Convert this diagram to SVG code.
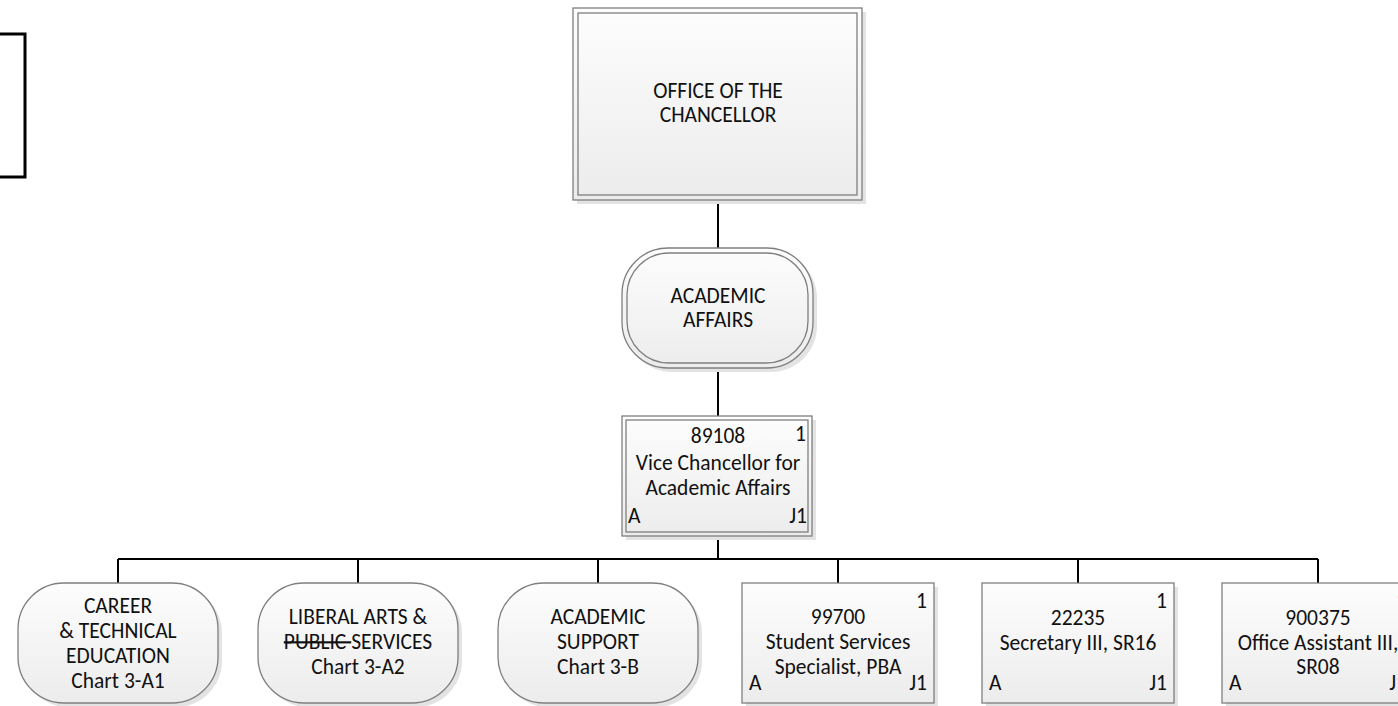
<svg xmlns="http://www.w3.org/2000/svg" width="1398" height="706" viewBox="0 0 1398 706">
<style>
text{font-family:Carlito,Lato,"Liberation Sans",sans-serif;font-size:21.5px;fill:#111}
.c{text-anchor:middle}
.r{text-anchor:end}
.shape{fill:url(#g);stroke:#7f7f7f;stroke-width:1.3}
.inner{fill:none;stroke:#7f7f7f;stroke-width:1.3}
.shadow{fill:#e3e3e3}
.conn{stroke:#000;stroke-width:2;fill:none}
</style>
<defs>
<linearGradient id="g" x1="0" y1="0" x2="0" y2="1">
<stop offset="0" stop-color="#fdfdfd"/>
<stop offset="1" stop-color="#ececec"/>
</linearGradient>
</defs>
<g id="left-box"><rect x="-10" y="34" width="35" height="143" fill="none" stroke="#000" stroke-width="3"/></g>
<g id="connectors">
<path class="conn" d="M718 200V248M718 368V416M718 536V559M118 559H1318M118 559V583M358 559V583M598 559V583M838 559V583M1078 559V583M1318 559V583"/>
</g>
<g id="chancellor">
<rect class="shadow" x="577" y="12" width="289" height="192"/>
<rect class="shape" x="573" y="8" width="289" height="192"/>
<rect class="inner" x="578" y="13" width="279" height="182"/>
<text class="c" x="718" y="98">OFFICE OF THE</text>
<text class="c" x="718" y="122">CHANCELLOR</text>
</g>
<g id="academic-affairs">
<rect class="shadow" x="626" y="252" width="191" height="120" rx="46"/>
<rect class="shape" x="622" y="248" width="191" height="120" rx="46"/>
<rect class="inner" x="627" y="253" width="181" height="110" rx="42"/>
<text class="c" x="718" y="303">ACADEMIC</text>
<text class="c" x="718" y="327">AFFAIRS</text>
</g>
<g id="vice-chancellor">
<rect class="shadow" x="626" y="420" width="190" height="120"/>
<rect class="shape" x="622" y="416" width="190" height="120"/>
<rect class="inner" x="626" y="420" width="182" height="112"/>
<text class="c" x="718" y="443">89108</text>
<text class="r" x="806" y="441">1</text>
<text class="c" x="718" y="470">Vice Chancellor for</text>
<text class="c" x="718" y="495">Academic Affairs</text>
<text x="628" y="523">A</text>
<text class="r" x="807" y="523">J1</text>
</g>
<g id="career">
<rect class="shadow" x="22" y="587" width="200" height="120" rx="46"/>
<rect class="shape" x="18" y="583" width="200" height="120" rx="46"/>
<text class="c" x="118" y="613">CAREER</text>
<text class="c" x="118" y="638">&amp; TECHNICAL</text>
<text class="c" x="118" y="663">EDUCATION</text>
<text class="c" x="118" y="688">Chart 3-A1</text>
</g>
<g id="liberal-arts">
<rect class="shadow" x="262" y="587" width="200" height="120" rx="46"/>
<rect class="shape" x="258" y="583" width="200" height="120" rx="46"/>
<text class="c" x="358" y="624">LIBERAL ARTS &amp;</text>
<text class="c" x="358" y="649"><tspan text-decoration="line-through">PUBLIC </tspan>SERVICES</text>
<text class="c" x="358" y="674">Chart 3-A2</text>
</g>
<g id="academic-support">
<rect class="shadow" x="502" y="587" width="200" height="120" rx="46"/>
<rect class="shape" x="498" y="583" width="200" height="120" rx="46"/>
<text class="c" x="598" y="624">ACADEMIC</text>
<text class="c" x="598" y="649">SUPPORT</text>
<text class="c" x="598" y="674">Chart 3-B</text>
</g>
<g id="student-services">
<rect class="shadow" x="746" y="587" width="192" height="120"/>
<rect class="shape" x="742" y="583" width="192" height="120"/>
<text class="r" x="927" y="608">1</text>
<text class="c" x="838" y="624">99700</text>
<text class="c" x="838" y="649">Student Services</text>
<text class="c" x="838" y="674">Specialist, PBA</text>
<text x="749" y="690">A</text>
<text class="r" x="927" y="690">J1</text>
</g>
<g id="secretary">
<rect class="shadow" x="986" y="587" width="192" height="120"/>
<rect class="shape" x="982" y="583" width="192" height="120"/>
<text class="r" x="1167" y="608">1</text>
<text class="c" x="1078" y="625">22235</text>
<text class="c" x="1078" y="650">Secretary III, SR16</text>
<text x="989" y="690">A</text>
<text class="r" x="1167" y="690">J1</text>
</g>
<g id="office-assistant">
<rect class="shadow" x="1226" y="587" width="192" height="120"/>
<rect class="shape" x="1222" y="583" width="192" height="120"/>
<text class="r" x="1407" y="608">1</text>
<text class="c" x="1318" y="625">900375</text>
<text class="c" x="1318" y="650">Office Assistant III,</text>
<text class="c" x="1318" y="674">SR08</text>
<text x="1229" y="690">A</text>
<text class="r" x="1407" y="690">J1</text>
</g>
</svg>
